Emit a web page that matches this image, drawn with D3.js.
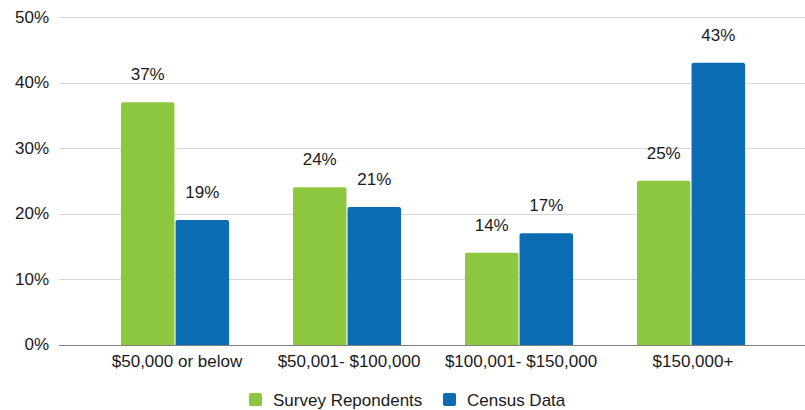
<!DOCTYPE html>
<html>
<head>
<meta charset="utf-8">
<script src="https://cdn.jsdelivr.net/npm/d3@7"></script>
<style>
  body { margin: 0; background: #fff; }
  text { font-family: "Liberation Sans", Arial, sans-serif; fill: #1a1a1a; }
</style>
</head>
<body>
<div id="chart"></div>
<script>
var categories = ["$50,000 or below", "$50,001- $100,000", "$100,001- $150,000", "$150,000+"];
var seriesNames = ["Survey Repondents", "Census Data"];
var surveyValues = [37, 24, 14, 25];
var censusValues = [19, 21, 17, 43];
var yTicks = [0, 10, 20, 30, 40, 50];
var colors = ["#8dc63f", "#0b6cb4"];

const w = 805;
const h = 410;

var rows = categories.map((c, i) => ({ cat: c, values: [surveyValues[i], censusValues[i]] }));

const svg = d3.select("#chart")
    .append("svg")
    .attr("width", w)
    .attr("height", h);

const xScale = d3.scaleBand()
    .domain(categories)
    .range([89, 777])
    .paddingInner(0.372)
    .paddingOuter(0.186);

const subScale = d3.scaleBand()
    .domain(seriesNames)
    .range([0, xScale.bandwidth()])
    .paddingInner(0.02);

const yScale = d3.scaleLinear()
    .domain([0, 50])
    .range([344.5, 17]);

// gridlines
svg.append("g")
    .selectAll("line")
    .data(yTicks.filter(t => t > 0))
    .enter()
    .append("line")
    .attr("x1", 59)
    .attr("x2", w)
    .attr("y1", d => Math.round(yScale(d)) + 0.5)
    .attr("y2", d => Math.round(yScale(d)) + 0.5)
    .attr("stroke", "#d6d6d6")
    .attr("stroke-width", 1);

// y tick labels
const yAxis = d3.axisLeft(yScale)
    .tickValues(yTicks)
    .tickFormat(d => d + "%")
    .tickSize(0)
    .tickPadding(0);

svg.append("g")
    .attr("id", "y-axis")
    .attr("transform", "translate(49,0)")
    .call(yAxis)
    .call(g => g.select(".domain").remove())
    .selectAll("text")
    .attr("font-size", 17)
    .attr("font-family", "Liberation Sans, Arial, sans-serif")
    .attr("fill", "#1a1a1a");

// bars
const groups = svg.append("g")
    .selectAll("g")
    .data(rows)
    .enter()
    .append("g")
    .attr("transform", d => "translate(" + xScale(d.cat) + ",0)");

groups.selectAll("rect")
    .data(d => d.values.map((v, i) => ({ name: seriesNames[i], value: v, idx: i })))
    .enter()
    .append("rect")
    .attr("x", d => subScale(d.name))
    .attr("y", d => yScale(d.value))
    .attr("width", subScale.bandwidth())
    .attr("height", d => yScale(0) - yScale(d.value) + 2)
    .attr("rx", 2)
    .attr("fill", d => colors[d.idx]);

groups.selectAll("text")
    .data(d => d.values.map((v, i) => ({ name: seriesNames[i], value: v })))
    .enter()
    .append("text")
    .attr("x", d => subScale(d.name) + subScale.bandwidth() / 2)
    .attr("y", d => yScale(d.value) - 22)
    .attr("text-anchor", "middle")
    .attr("font-size", 17)
    .text(d => d.value + "%");

// white cover below baseline, then baseline
svg.append("rect")
    .attr("x", 59).attr("y", Math.round(yScale(0)) + 1)
    .attr("width", w - 59).attr("height", 8)
    .attr("fill", "#fff");

svg.append("line")
    .attr("x1", 59)
    .attr("x2", w)
    .attr("y1", Math.round(yScale(0)) + 0.5)
    .attr("y2", Math.round(yScale(0)) + 0.5)
    .attr("stroke", "#808080")
    .attr("stroke-width", 1);

// x axis labels
const xAxis = d3.axisBottom(xScale).tickSize(0).tickPadding(0);
svg.append("g")
    .attr("id", "x-axis")
    .attr("transform", "translate(2,355)")
    .call(xAxis)
    .call(g => g.select(".domain").remove())
    .selectAll("text")
    .attr("font-size", 17)
    .attr("font-family", "Liberation Sans, Arial, sans-serif")
    .attr("fill", "#1a1a1a");

// legend
const legendX = [249, 443];
const legend = svg.append("g")
    .selectAll("g")
    .data(seriesNames)
    .enter()
    .append("g")
    .attr("transform", (d, i) => "translate(" + legendX[i] + ",393)");

legend.append("rect")
    .attr("width", 13)
    .attr("height", 13)
    .attr("rx", 2)
    .attr("fill", (d, i) => colors[i]);

legend.append("text")
    .attr("x", 24)
    .attr("y", 13)
    .attr("font-size", 17)
    .text(d => d);
</script>
</body>
</html>
